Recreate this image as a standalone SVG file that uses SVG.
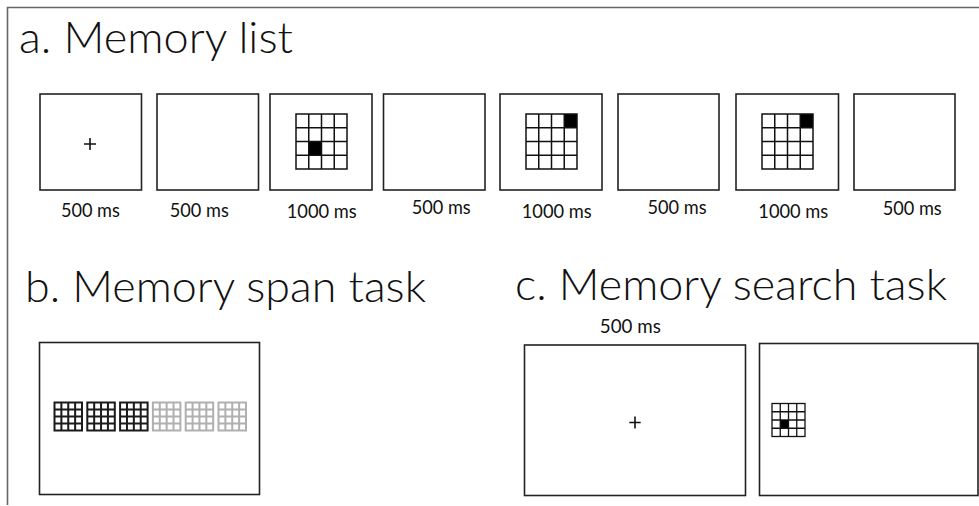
<svg xmlns="http://www.w3.org/2000/svg" xmlns:xlink="http://www.w3.org/1999/xlink" width="979" height="506" viewBox="0 0 979 506">
  <style>
    .title { font-family: "Lato", "Liberation Sans", sans-serif; font-weight: 300; font-size: 44px; fill: #111; }
    .lbl { font-family: "Lato", "Liberation Sans", sans-serif; font-size: 19px; fill: #111; }
    .screen { fill: #fff; stroke: #222; stroke-width: 1.6; }
    .frame { fill: none; stroke: #666; stroke-width: 1.6; }
    .cross { stroke: #111; stroke-width: 1.6; fill: none; }
    .cell { fill: #000; }
  </style>
  <defs>
    <!-- 4x4 grid shown in the memory list screens -->
    <g id="grid-list" fill="none" stroke="#111" stroke-width="1.5">
      <rect x="0" y="0" width="51" height="55"/>
      <path d="M12.75 0V55M25.5 0V55M38.25 0V55M0 13.75H51M0 27.5H51M0 41.25H51"/>
    </g>
    <!-- small grid shown in the search display -->
    <g id="grid-search" fill="none" stroke="#111" stroke-width="1.3">
      <rect x="0" y="0" width="33" height="33"/>
      <path d="M8.25 0V33M16.5 0V33M24.75 0V33M0 8.25H33M0 16.5H33M0 24.75H33"/>
    </g>
    <!-- compact grid used in the span display; stroke colour set per use -->
    <g id="grid-span" fill="none" stroke-width="2">
      <rect x="0" y="0" width="27.5" height="28"/>
      <path d="M6.875 0V28M13.75 0V28M20.625 0V28M0 7H27.5M0 14H27.5M0 21H27.5"/>
    </g>
  </defs>

  <rect width="979" height="506" fill="#fff"/>

  <!-- outer frame (top and left edges) -->
  <path class="frame" d="M7.5 505V7.5H979"/>

  <!-- section titles -->
  <text class="title" x="19" y="53" textLength="274" lengthAdjust="spacingAndGlyphs">a. Memory list</text>
  <text class="title" x="25" y="301.5" textLength="401" lengthAdjust="spacingAndGlyphs">b. Memory span task</text>
  <text class="title" x="515" y="300" textLength="432" lengthAdjust="spacingAndGlyphs">c. Memory search task</text>

  <!-- a. memory list sequence -->
  <g id="list-1">
    <rect class="screen" x="40" y="94" width="101.5" height="96"/>
    <path class="cross" d="M84 144H96M90 138V150"/>
    <text class="lbl" x="90.4" y="216.5" text-anchor="middle" textLength="59" lengthAdjust="spacingAndGlyphs">500 ms</text>
  </g>
  <g id="list-2">
    <rect class="screen" x="157" y="94" width="101.5" height="96"/>
    <text class="lbl" x="199.3" y="216.5" text-anchor="middle" textLength="59" lengthAdjust="spacingAndGlyphs">500 ms</text>
  </g>
  <g id="list-3">
    <rect class="screen" x="270" y="94" width="102" height="96"/>
    <rect class="cell" x="308.75" y="141.5" width="12.75" height="13.75"/>
    <use xlink:href="#grid-list" x="296" y="114"/>
    <text class="lbl" x="321.7" y="218.3" text-anchor="middle" textLength="70" lengthAdjust="spacingAndGlyphs">1000 ms</text>
  </g>
  <g id="list-4">
    <rect class="screen" x="383.5" y="94" width="101.5" height="96"/>
    <text class="lbl" x="441.2" y="214.3" text-anchor="middle" textLength="59" lengthAdjust="spacingAndGlyphs">500 ms</text>
  </g>
  <g id="list-5">
    <rect class="screen" x="500" y="94" width="102" height="96"/>
    <rect class="cell" x="564.25" y="114" width="12.75" height="13.75"/>
    <use xlink:href="#grid-list" x="526" y="114"/>
    <text class="lbl" x="556.7" y="217.7" text-anchor="middle" textLength="70" lengthAdjust="spacingAndGlyphs">1000 ms</text>
  </g>
  <g id="list-6">
    <rect class="screen" x="618" y="94" width="101" height="96"/>
    <text class="lbl" x="677" y="214.3" text-anchor="middle" textLength="59" lengthAdjust="spacingAndGlyphs">500 ms</text>
  </g>
  <g id="list-7">
    <rect class="screen" x="736" y="94" width="102.5" height="96"/>
    <rect class="cell" x="800.25" y="114" width="12.75" height="13.75"/>
    <use xlink:href="#grid-list" x="762" y="114"/>
    <text class="lbl" x="793.3" y="218.3" text-anchor="middle" textLength="70" lengthAdjust="spacingAndGlyphs">1000 ms</text>
  </g>
  <g id="list-8">
    <rect class="screen" x="854" y="94" width="101" height="96"/>
    <text class="lbl" x="912.2" y="215" text-anchor="middle" textLength="59" lengthAdjust="spacingAndGlyphs">500 ms</text>
  </g>

  <!-- b. memory span display -->
  <g id="span-screen">
    <rect class="screen" x="39.5" y="342.5" width="220" height="152"/>
    <use xlink:href="#grid-span" x="54.5" y="402.5" stroke="#1a1a1a"/>
    <use xlink:href="#grid-span" x="87.3" y="402.5" stroke="#1a1a1a"/>
    <use xlink:href="#grid-span" x="120.1" y="402.5" stroke="#1a1a1a"/>
    <use xlink:href="#grid-span" x="152.9" y="402.5" stroke="#b0b0b0"/>
    <use xlink:href="#grid-span" x="185.7" y="402.5" stroke="#b0b0b0"/>
    <use xlink:href="#grid-span" x="218.5" y="402.5" stroke="#b0b0b0"/>
  </g>

  <!-- c. memory search displays -->
  <g id="search-fixation">
    <text class="lbl" x="630.3" y="333.3" text-anchor="middle" textLength="61" lengthAdjust="spacingAndGlyphs">500 ms</text>
    <rect class="screen" x="524.5" y="345" width="221" height="150.5"/>
    <path class="cross" d="M629.3 422.5H640.7M635 416.5V428.5"/>
  </g>
  <g id="search-probe">
    <rect class="screen" x="759.5" y="343.5" width="218.5" height="152"/>
    <rect class="cell" x="780.25" y="420" width="8.25" height="8.25"/>
    <use xlink:href="#grid-search" x="772" y="403.5"/>
  </g>
</svg>
